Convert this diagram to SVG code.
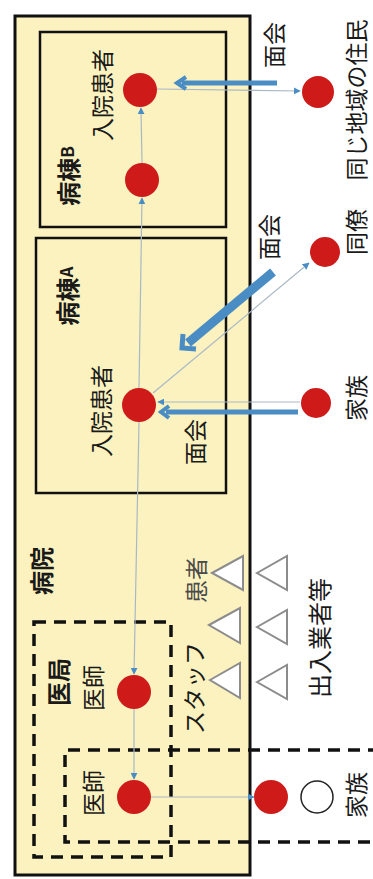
<svg xmlns="http://www.w3.org/2000/svg" width="373" height="879" viewBox="0 0 373 879">
<defs>
<style>
text{font-family:"Noto Sans CJK JP","Noto Sans",sans-serif;font-size:23px;fill:#1a1a1a;text-anchor:middle;dominant-baseline:central}
.b{font-weight:bold;font-size:24px}
.r{font-size:24px}
.g{fill:#4a4a4a}
.box{fill:none;stroke:#111;stroke-width:2.5}
.dash{fill:none;stroke:#111;stroke-width:3.5;stroke-dasharray:12 8}
.node{fill:#cf1a1a}
.thin{stroke:#a9b8c6;stroke-width:1.2;fill:none;marker-end:url(#ah)}
.thick{stroke:#4a8cc4;fill:none}
.tri{fill:#fff;stroke:#8c8c8c;stroke-width:2}
</style>
<marker id="ah" viewBox="0 0 10 10" refX="9" refY="5" markerWidth="7" markerHeight="7" markerUnits="userSpaceOnUse" orient="auto"><path d="M0,0L10,5L0,10z" fill="#4a8cc4"/></marker>
</defs>
<rect width="373" height="879" fill="#fff"/>
<g id="hospital">
<rect x="15" y="16" width="235" height="859" fill="#fbf2bf" stroke="#111" stroke-width="3"/>
<text class="b" transform="translate(40,571) rotate(-90)">病院</text>
</g>
<g id="ward-b">
<rect class="box" x="40" y="32" width="186" height="195"/>
<text class="b" transform="translate(67,176) rotate(-90)">病棟<tspan font-size="17" dy="-1">B</tspan></text>
</g>
<g id="ward-a">
<rect class="box" x="36" y="238" width="190" height="255"/>
<text class="b" transform="translate(66,296) rotate(-90)">病棟<tspan font-size="17" dy="-1">A</tspan></text>
</g>
<g id="medical-office">
<rect class="dash" x="34" y="622" width="137" height="235"/>
<text class="b" transform="translate(57,682) rotate(-90)">医局</text>
</g>
<g id="family-area">
<path class="dash" d="M380,750H65V842H380"/>
</g>
<g id="connectors">
<path class="thin" d="M139,388L142,198"/>
<path class="thin" d="M142,163L141,108"/>
<path class="thin" d="M139,422L134,674"/>
<path class="thin" d="M134,709L134,779"/>
<path class="thin" d="M151,797L254,797"/>
<path class="thin" d="M157,89L300,91"/>
<path class="thin" d="M153,393L309,263"/>
<path class="thin" d="M300,402L158,402"/>
<path class="thick" d="M277,83H182" stroke-width="5"/>
<path d="M186,77L177,83L186,89" fill="none" stroke="#4a8cc4" stroke-width="4"/>
<path class="thick" d="M273,272L188,343" stroke-width="9"/>
<path d="M183,334L182,348L196,349" fill="none" stroke="#4a8cc4" stroke-width="5"/>
<path class="thick" d="M298,412H166" stroke-width="5"/>
<path d="M169,406L161,412L169,418" fill="none" stroke="#4a8cc4" stroke-width="4"/>
</g>
<g id="ward-b-patient"><circle class="node" cx="140" cy="90" r="17"/><text transform="translate(101,95) rotate(-90)">入院患者</text></g>
<g id="ward-b-node"><circle class="node" cx="142" cy="180" r="17"/></g>
<g id="ward-a-patient"><circle class="node" cx="139" cy="405" r="17"/><text transform="translate(100,411) rotate(-90)">入院患者</text></g>
<g id="resident"><circle class="node" cx="318" cy="92" r="16"/><text transform="translate(355,100) rotate(-90)">同じ地域の住民</text></g>
<g id="colleague"><circle class="node" cx="325" cy="252" r="15"/><text transform="translate(355,232) rotate(-90)">同僚</text></g>
<g id="family-a"><circle class="node" cx="316" cy="403" r="15"/><text transform="translate(355,398) rotate(-90)">家族</text></g>
<g id="label-visit-b"><text transform="translate(273,45) rotate(-90)">面会</text></g>
<g id="label-visit-a1"><text transform="translate(268,237) rotate(-90)">面会</text></g>
<g id="label-visit-a2"><text transform="translate(194,442) rotate(-90)">面会</text></g>
<g id="doctor-office"><circle class="node" cx="134" cy="692" r="17"/><text transform="translate(92,688) rotate(-90)">医師</text></g>
<g id="doctor"><circle class="node" cx="134" cy="797" r="17"/><text transform="translate(92,793) rotate(-90)">医師</text></g>
<g id="family-b"><circle class="node" cx="271" cy="797" r="17"/><circle cx="317" cy="797" r="16" fill="#fff" stroke="#222" stroke-width="1.5"/><text transform="translate(355,795) rotate(-90)">家族</text></g>
<g id="patients-staff">
<polygon class="tri" points="212,573 243,556 243,590"/>
<polygon class="tri" points="209,625 240,608 240,643"/>
<polygon class="tri" points="210,680 240,663 240,698"/>
<text class="g" transform="translate(195,580) rotate(-90)">患者</text>
<text transform="translate(193,688) rotate(-90)">スタッフ</text>
</g>
<g id="vendors">
<polygon class="tri" points="257,573 287,556 287,590"/>
<polygon class="tri" points="257,627 287,610 287,644"/>
<polygon class="tri" points="257,682 287,665 287,699"/>
<text class="r" transform="translate(318,638) rotate(-90)">出入業者等</text>
</g>
</svg>
